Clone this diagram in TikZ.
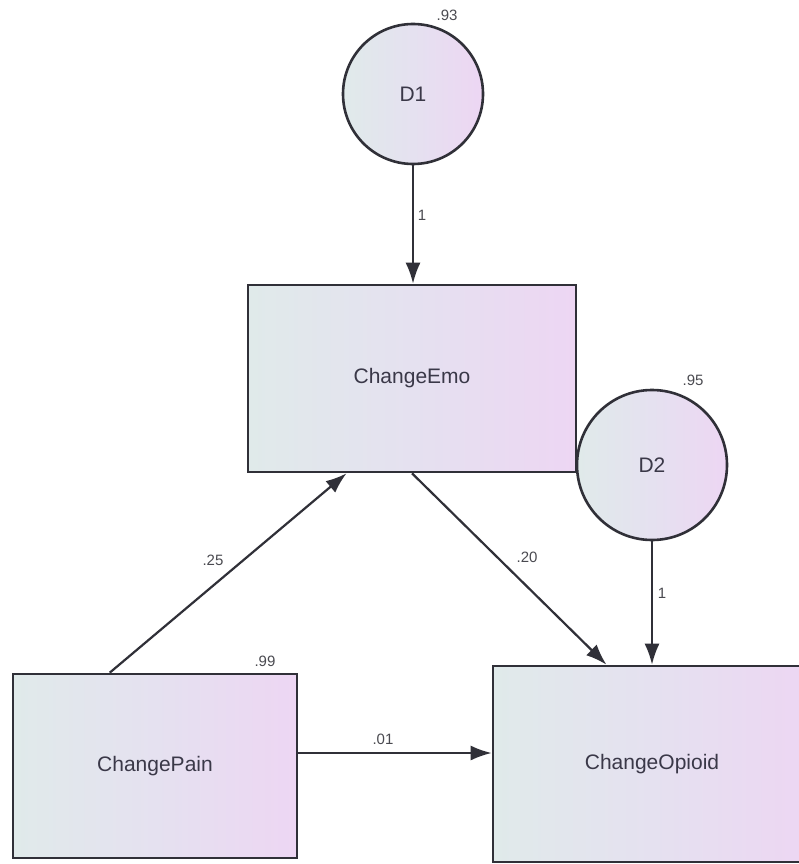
\documentclass[tikz,border=0pt]{standalone}
\usepackage{fontspec}
\setmainfont{Liberation Sans}
\usetikzlibrary{arrows.meta,calc}
\definecolor{edgec}{HTML}{303038}
\definecolor{txtc}{HTML}{3A3848}
\definecolor{lblc}{HTML}{4A4A50}
\definecolor{fillL}{HTML}{E0EAEA}
\definecolor{fillM}{HTML}{E5E1F0}
\definecolor{fillR}{HTML}{EDD6F3}
\tikzset{
  varbox/.style={draw=edgec, line width=2.6pt, rectangle, left color=fillL, right color=fillR, middle color=fillM,
    text=txtc, font=\fontsize{21}{25}\selectfont, inner sep=0pt},
  errc/.style={draw=edgec, line width=2.6pt, circle, left color=fillL, right color=fillR, middle color=fillM,
    text=txtc, font=\fontsize{21}{25}\selectfont, inner sep=0pt, minimum size=140pt},
  arr/.style={draw=edgec, line width=2.2pt, -{Latex[length=21pt,width=15pt]}},
  lbl/.style={text=lblc, font=\fontsize{15}{18}\selectfont, inner sep=0pt}
}
\begin{document}
\begin{tikzpicture}[x=1pt,y=-1pt]
\useasboundingbox (0,0) rectangle (799,864);
\clip (0,0) rectangle (799,864);
\fill[white] (0,0) rectangle (799,864);

\node[errc] (D1) at (413,94) {D1};
\node[varbox, minimum width=328pt, minimum height=187pt] (Emo) at (412,378.5) {ChangeEmo};
\node[errc, minimum size=150pt] (D2) at (652,465) {D2};
\node[varbox, minimum width=284pt, minimum height=184pt] (Pain) at (155,766) {ChangePain};
\node[varbox, minimum width=318pt, minimum height=196pt] (Opioid) at (652,764) {ChangeOpioid};

\coordinate (painTop) at ($(Pain.north west)!0.342!(Pain.north east)$);
\coordinate (emoBot) at ($(Emo.south west)!0.302!(Emo.south east)$);
\coordinate (opTop) at ($(Opioid.north west)!0.358!(Opioid.north east)$);

\draw[arr] (D1.south) -- (D1.south |- Emo.north);
\draw[arr] (D2.south) -- (D2.south |- Opioid.north);
\draw[arr] (painTop) -- (emoBot);
\draw[arr] (Emo.south) -- (opTop);
\draw[arr] ([yshift=13pt]Pain.east) -- ([yshift=13pt]Pain.east -| Opioid.west);

\node[lbl] (l93) at (447,15) {.93};
\node[lbl] (l1a) at (422,215) {1};
\node[lbl] (l95) at (693,380) {.95};
\node[lbl] (l1b) at (662,593) {1};
\node[lbl] (l99) at (265,661) {.99};
\node[lbl] (l25) at (213,560) {.25};
\node[lbl] (l20) at (527,557) {.20};
\node[lbl] (l01) at (383,739) {.01};
\end{tikzpicture}
\end{document}
